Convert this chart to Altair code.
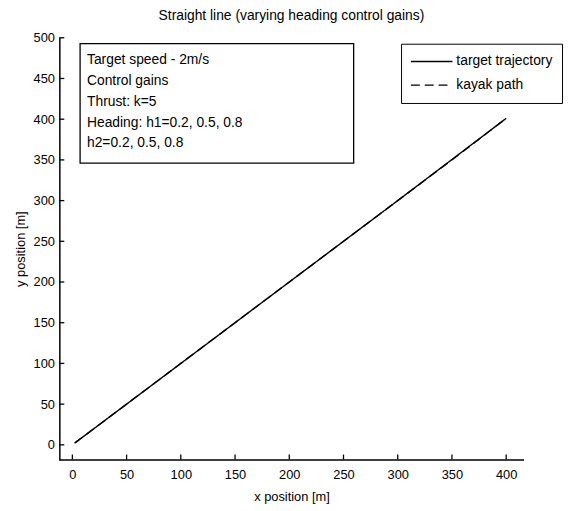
import altair as alt
import pandas as pd

# ---- data ----
series_names = ["target trajectory", "kayak path"]
target_x = [2, 100, 200, 300, 400]
target_y = [2, 100, 200, 300, 401]
kayak_x = [3, 50, 100, 150, 200, 250, 300, 350, 400]
kayak_y = [3, 50, 100, 150, 200, 250, 300, 350, 401]
x_ticks = [0, 50, 100, 150, 200, 250, 300, 350, 400]
y_ticks = [0, 50, 100, 150, 200, 250, 300, 350, 400, 450, 500]
note_lines = ["Target speed - 2m/s", "Control gains", "Thrust: k=5",
              "Heading: h1=0.2, 0.5, 0.8", "h2=0.2, 0.5, 0.8"]

rows = []
for i, (x, y) in enumerate(zip(target_x, target_y)):
    rows.append({"x": x, "y": y, "series": series_names[0], "o": i})
for i, (x, y) in enumerate(zip(kayak_x, kayak_y)):
    rows.append({"x": x, "y": y, "series": series_names[1], "o": i})
df = pd.DataFrame(rows)

FONT = "Liberation Sans"
W, H = 470, 427
xscale = alt.Scale(domain=[-12, 416], nice=False, zero=False)
yscale = alt.Scale(domain=[-18, 500], nice=False, zero=False)

lines = alt.Chart(df).mark_line(strokeWidth=1.4, color="black", clip=True).encode(
    x=alt.X("x:Q", scale=xscale, title="x position [m]",
            axis=alt.Axis(values=x_ticks, ticks=False, labelPadding=9, titlePadding=10)),
    y=alt.Y("y:Q", scale=yscale, title="y position [m]",
            axis=alt.Axis(values=y_ticks, ticks=False, labelPadding=5, titlePadding=6)),
    order="o:Q",
    strokeDash=alt.StrokeDash(
        "series:N",
        scale=alt.Scale(domain=series_names, range=[[1, 0], [9, 5]]),
        legend=alt.Legend(
            title=None, orient="none", legendX=346, legendY=6,
            symbolType="stroke", symbolSize=1764, symbolStrokeWidth=1.3,
            symbolStrokeColor="black", labelFontSize=14, labelFont=FONT,
            labelColor="black", padding=9, rowPadding=6, clipHeight=18,
            fillColor="white", strokeColor="black", labelOffset=3,
        ),
    ),
)

xt = alt.Chart(pd.DataFrame({"v": x_ticks})).mark_rule(color="black", strokeWidth=1.3).encode(
    x=alt.X("v:Q", scale=xscale), y=alt.value(H), y2=alt.value(H - 5))
yt = alt.Chart(pd.DataFrame({"v": y_ticks})).mark_rule(color="black", strokeWidth=1.3).encode(
    y=alt.Y("v:Q", scale=yscale), x=alt.value(0), x2=alt.value(5))

box = alt.Chart(pd.DataFrame({"a": [0]})).mark_rect(
    fill="white", stroke="black", strokeWidth=1.3).encode(
    x=alt.value(21), x2=alt.value(298), y=alt.value(6), y2=alt.value(127))
note = alt.Chart(pd.DataFrame({"a": [0]})).mark_text(
    align="left", baseline="top", font=FONT, fontSize=14, lineHeight=21,
    color="black").encode(x=alt.value(28), y=alt.value(16), text=alt.value(note_lines))

chart = alt.layer(lines, xt, yt, box, note).properties(
    width=W, height=H,
    title=alt.TitleParams("Straight line (varying heading control gains)",
                          font=FONT, fontSize=14, fontWeight="normal",
                          color="black", anchor="middle", offset=9),
    autosize=alt.AutoSizeParams(type="none"),
    padding={"left": 52, "top": 27, "right": 42, "bottom": 49},
).configure_view(stroke=None).configure_axis(
    domainColor="black", domainWidth=1.5, labelFont=FONT, labelFontSize=13,
    labelColor="black", titleFont=FONT, titleFontSize=13, titleFontWeight="normal",
    titleColor="black", grid=False,
).configure_axisY(domainCap="square")

chart.save("out.html", embed_options={"renderer": "svg", "actions": False})
